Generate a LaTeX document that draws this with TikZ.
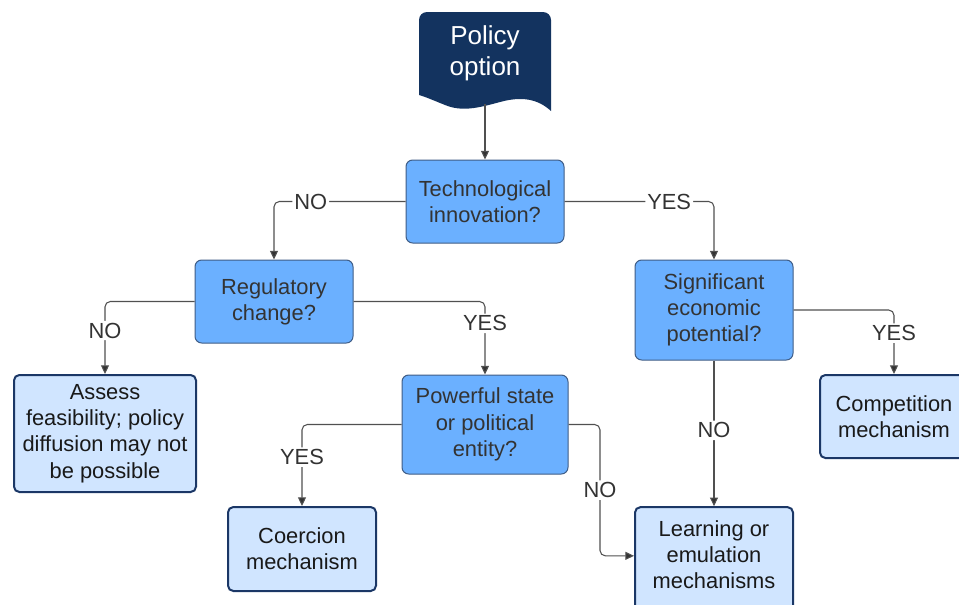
\documentclass[tikz,border=0pt]{standalone}
\usepackage{fontspec}
\setmainfont{Liberation Sans}
\usetikzlibrary{arrows.meta}
\definecolor{navy}{HTML}{13335F}
\definecolor{medblue}{HTML}{6BB0FF}
\definecolor{medborder}{HTML}{3F5C85}
\definecolor{lightblue}{HTML}{D0E5FF}
\definecolor{leafborder}{HTML}{1B3766}
\definecolor{textdark}{HTML}{333333}
\definecolor{connc}{HTML}{505050}
\tikzset{
  dec/.style={rectangle, rounded corners=5pt, fill=medblue, draw=medborder, line width=0.75pt,
    text=textdark, align=center, inner sep=0pt, font=\fontsize{16.4}{19.7}\selectfont},
  leaf/.style={rectangle, rounded corners=4pt, fill=lightblue, draw=leafborder, line width=1.5pt,
    text=black!90, align=center, inner sep=0pt, font=\fontsize{16.4}{19.7}\selectfont},
  conn/.style={draw=connc, line width=0.8pt, rounded corners=4pt,
    -{Triangle[length=6.5pt,width=6pt,fill=textdark]}},
  lab/.style={fill=white, text=textdark, inner sep=1.5pt, font=\fontsize{16.4}{19.7}\selectfont}
}
\begin{document}
\begin{tikzpicture}[x=0.75pt,y=-0.75pt]
\useasboundingbox (0,0) rectangle (959,604);
\clip (0,0) rectangle (959,604);
% Policy option document shape
\fill[navy] (419,95) -- (419,20) arc[start angle=180,end angle=90,radius=6pt] -- (543,12)
  arc[start angle=90,end angle=0,radius=6pt] -- (551,111)
  .. controls (538,99) and (522,96) .. (500,102)
  .. controls (478,108) and (462,112) .. (445,105)
  .. controls (435,101) and (426,97) .. (419,95) -- cycle;
\node[text=white, align=center, font=\fontsize{19.5}{23.2}\selectfont] (pol) at (485,53) {Policy\\option};
\coordinate (polbot) at (485,104);

\node[dec, minimum width=118.5pt, minimum height=62.25pt] (tech) at (485,201.5) {Technological\\innovation?};
\node[dec, minimum width=118.5pt, minimum height=62.25pt] (reg) at (274,301.5) {Regulatory\\change?};
\node[dec, minimum width=118.5pt, minimum height=75pt] (sig) at (714,310) {Significant\\economic\\potential?};
\node[dec, minimum width=124.5pt, minimum height=74.25pt] (pow) at (485,424.5) {Powerful state\\or political\\entity?};
\node[leaf, minimum width=136.5pt, minimum height=87.75pt] (assess) at (105,433.5) {Assess\\feasibility; policy\\diffusion may not\\be possible};
\node[leaf, minimum width=111pt, minimum height=63pt] (coer) at (302,549) {Coercion\\mechanism};
\node[leaf, minimum width=118.5pt, minimum height=80pt,
  label={[text=black!90, align=center, inner sep=0pt, font=\fontsize{16.4}{19.7}\selectfont, yshift=4.5pt]center:{Learning or\\emulation\\mechanisms}}] (learn) at (714,560.5) {};
\node[leaf, minimum width=111pt, minimum height=62.25pt] (comp) at (894,416.5) {Competition\\mechanism};

\draw[conn] (polbot) -- (tech.north);
\draw[conn] (tech.west) -| node[lab, pos=0.36] {NO} (reg.north);
\draw[conn] (tech.east) -| node[lab, pos=0.35] {YES} (sig.north);
\draw[conn] (reg.west) -| node[lab, pos=0.7] {NO} (assess.north);
\draw[conn] (reg.east) -| node[lab, pos=0.65] {YES} (pow.north);
\draw[conn] (pow.west) -| node[lab, pos=0.7] {YES} (coer.north);
\draw[conn] (pow.east) -| node[lab, pos=0.75] {NO} ([xshift=-25.5pt,yshift=3.5pt]learn.west) -- ([yshift=3.5pt]learn.west);
\draw[conn] (sig.south) -- node[lab, pos=0.48] {NO} (learn.north);
\draw[conn] (sig.east) -| node[lab, pos=0.68] {YES} (comp.north);
\end{tikzpicture}
\end{document}
